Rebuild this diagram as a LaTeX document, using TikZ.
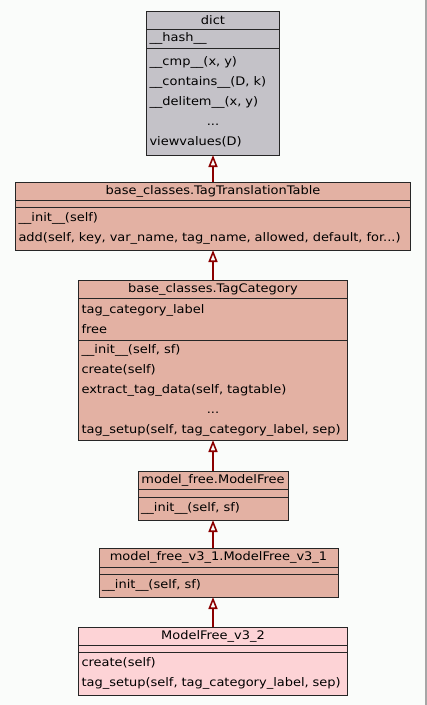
\documentclass[tikz,border=0pt]{standalone}
\usepackage{fontspec}
\usepackage{tikz}
\setmainfont{DejaVu Sans}[FakeStretch=1.1]
\definecolor{pagebg}{RGB}{250, 252, 250}
\definecolor{dictfill}{RGB}{196, 194, 200}
\definecolor{basefill}{RGB}{227, 177, 163}
\definecolor{leaffill}{RGB}{253, 211, 214}
\definecolor{inherit}{RGB}{139, 0, 0}
\usetikzlibrary{arrows.meta, positioning}

\begin{document}
\begin{tikzpicture}[x=1pt, y=-1pt,
    part/.style={draw=black!85, line width=0.9pt, outer sep=0pt, inner xsep=3pt,
                 inner ysep=0pt, anchor=north, font=\fontsize{11.8}{20}\selectfont},
    head/.style={part, minimum height=18pt, text width=#1, align=center},
    body/.style={part, text width=#1, align=left},
    parent/.style={draw=inherit, line width=1.8pt,
                   -{Triangle[open, length=12pt, width=9pt, line width=1.6pt]}}
]
    % page
    \useasboundingbox[fill=pagebg] (0,0) rectangle (427,705);
    \draw[black!35, line width=1.2pt] (426,0) -- (426,705);

    % dict
    \node[head=127pt, fill=dictfill] (dict) at (213,11) {dict};
    \node[body=127pt, fill=dictfill, minimum height=19pt, below=0pt of dict] (dictattr)
        {\_\_hash\_\_};
    \node[body=127pt, fill=dictfill, minimum height=107pt, below=0pt of dictattr] (dictops)
        {\_\_cmp\_\_(x, y)\\
         \_\_contains\_\_(D, k)\\
         \_\_delitem\_\_(x, y)\\
         \makebox[\hsize]{...}\\
         viewvalues(D)};

    % base_classes.TagTranslationTable
    \node[head=389pt, fill=basefill] (ttt) at (213,182) {base\_classes.TagTranslationTable};
    \node[body=389pt, fill=basefill, minimum height=7pt, below=0pt of ttt] (tttattr) {};
    \node[body=389pt, fill=basefill, minimum height=43pt, below=0pt of tttattr] (tttops)
        {\_\_init\_\_(self)\\
         add(self, key, var\_name, tag\_name, allowed, default, for...)};

    % base_classes.TagCategory
    \node[head=263pt, fill=basefill] (cat) at (213,280) {base\_classes.TagCategory};
    \node[body=263pt, fill=basefill, minimum height=42pt, below=0pt of cat] (catattr)
        {tag\_category\_label\\
         free};
    \node[body=263pt, fill=basefill, minimum height=100pt, below=0pt of catattr] (catops)
        {\_\_init\_\_(self, sf)\\
         create(self)\\
         extract\_tag\_data(self, tagtable)\\
         \makebox[\hsize]{...}\\
         tag\_setup(self, tag\_category\_label, sep)};

    % model_free.ModelFree
    \node[head=144pt, fill=basefill] (mf) at (213,471) {model\_free.ModelFree};
    \node[body=144pt, fill=basefill, minimum height=8pt, below=0pt of mf] (mfattr) {};
    \node[body=144pt, fill=basefill, minimum height=23pt, below=0pt of mfattr] (mfops)
        {\_\_init\_\_(self, sf)};

    % model_free_v3_1.ModelFree_v3_1
    \node[head=233pt, fill=basefill, minimum height=19pt] (mfa) at (218.5,548)
        {model\_free\_v3\_1.ModelFree\_v3\_1};
    \node[body=233pt, fill=basefill, minimum height=7pt, below=0pt of mfa] (mfaattr) {};
    \node[body=233pt, fill=basefill, minimum height=23pt, below=0pt of mfaattr] (mfaops)
        {\_\_init\_\_(self, sf)};

    % ModelFree_v3_2
    \node[head=263pt, fill=leaffill] (mfb) at (213,627) {ModelFree\_v3\_2};
    \node[body=263pt, fill=leaffill, minimum height=7pt, below=0pt of mfb] (mfbattr) {};
    \node[body=263pt, fill=leaffill, minimum height=43pt, below=0pt of mfbattr] (mfbops)
        {create(self)\\
         tag\_setup(self, tag\_category\_label, sep)};

    % inheritance
    \draw[parent] (ttt.north) -- (dictops.south);
    \draw[parent] (cat.north) -- (tttops.south);
    \draw[parent] (mf.north) -- (catops.south);
    \draw[parent] (mfa.north -| mfops.south) -- (mfops.south);
    \draw[parent] (mfb.north) -- (mfb.north |- mfaops.south);
\end{tikzpicture}
\end{document}
